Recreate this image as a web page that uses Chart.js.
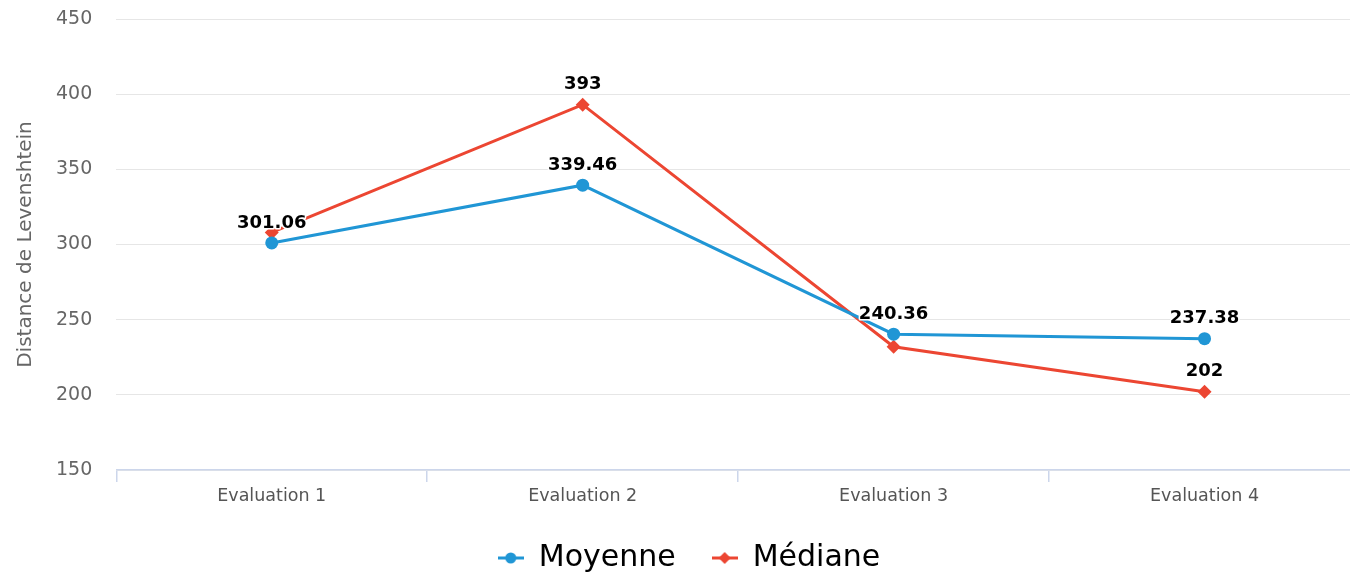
<!DOCTYPE html>
<html>
<head>
<meta charset="utf-8">
<script src="https://cdn.jsdelivr.net/npm/chart.js@4.4.1/dist/chart.umd.min.js"></script>
<style>
  html, body { margin: 0; padding: 0; background: #ffffff; overflow: hidden; }
  #wrap { width: 1367px; height: 573px; position: relative; }
</style>
</head>
<body>
<div id="wrap"><canvas id="c"></canvas></div>
<script>
// Categories and series
const categories = ['Evaluation 1', 'Evaluation 2', 'Evaluation 3', 'Evaluation 4'];
const moyenne = [301.06, 339.46, 240.36, 237.38];
const mediane = [308, 393, 232, 202];
// Which points carry a visible value label
const moyenneLabels = [true, true, true, true];
const medianeLabels = [false, true, false, true];
const yTicks = [150, 200, 250, 300, 350, 400, 450];

const BLUE = '#2096d5';
const RED = '#ec4632';
const FONT = "'DejaVu Sans', sans-serif";

// Legend icons: a short line segment with the series marker
function legendIcon(color, kind) {
  const cv = document.createElement('canvas');
  cv.width = 26; cv.height = 14;
  const g = cv.getContext('2d');
  g.strokeStyle = color; g.lineWidth = 3;
  g.beginPath(); g.moveTo(0, 7); g.lineTo(26, 7); g.stroke();
  g.fillStyle = color;
  g.beginPath();
  if (kind === 'circle') {
    g.arc(13, 7, 5.5, 0, Math.PI * 2);
  } else {
    g.moveTo(13, 1); g.lineTo(19, 7); g.lineTo(13, 13); g.lineTo(7, 7); g.closePath();
  }
  g.fill();
  return cv;
}

// Draws value labels above the points
const valueLabels = {
  id: 'valueLabels',
  afterDatasetsDraw(chart) {
    const ctx = chart.ctx;
    ctx.save();
    ctx.font = "bold 18px " + FONT;
    ctx.textAlign = 'center';
    ctx.textBaseline = 'middle';
    ctx.lineJoin = 'round';
    chart.data.datasets.forEach((ds, i) => {
      const meta = chart.getDatasetMeta(i);
      meta.data.forEach((pt, j) => {
        if (!ds.showLabel[j]) return;
        const txt = String(ds.data[j]);
        const y = pt.y - 20;
        ctx.strokeStyle = '#ffffff';
        ctx.lineWidth = 3;
        ctx.strokeText(txt, pt.x, y);
        ctx.fillStyle = '#000000';
        ctx.fillText(txt, pt.x, y);
      });
    });
    ctx.restore();
  }
};

new Chart(document.getElementById('c'), {
  type: 'line',
  data: {
    labels: categories,
    datasets: [
      {
        label: 'Moyenne',
        data: moyenne,
        showLabel: moyenneLabels,
        borderColor: BLUE,
        backgroundColor: BLUE,
        borderWidth: 3,
        pointStyle: 'circle',
        pointRadius: 6.5,
        pointBorderWidth: 0,
        tension: 0
      },
      {
        label: 'Médiane',
        data: mediane,
        showLabel: medianeLabels,
        borderColor: RED,
        backgroundColor: RED,
        borderWidth: 3,
        pointStyle: 'rectRot',
        pointRadius: 7,
        pointBorderWidth: 0,
        tension: 0
      }
    ]
  },
  options: {
    responsive: true,
    maintainAspectRatio: false,
    animation: false,
    layout: { padding: { top: 19, right: 3, left: 14, bottom: -10 } },
    plugins: {
      tooltip: { enabled: false },
      legend: {
        position: 'bottom',
        labels: {
          font: { family: FONT, size: 30 },
          color: '#000000',
          usePointStyle: true,
          pointStyleWidth: 26,
          padding: 36,
          generateLabels(chart) {
            return chart.data.datasets.map((ds, i) => ({
              text: ds.label,
              pointStyle: legendIcon(ds.borderColor, i === 0 ? 'circle' : 'diamond'),
              fillStyle: ds.borderColor,
              strokeStyle: ds.borderColor,
              lineWidth: 0,
              fontColor: '#000000',
              hidden: false,
              datasetIndex: i
            }));
          }
        }
      }
    },
    scales: {
      x: {
        offset: true,
        afterFit(scale) { scale.height -= 4; },
        grid: {
          offset: true,
          drawOnChartArea: false,
          drawTicks: true,
          tickLength: 12,
          color: '#ccd6eb',
          lineWidth: 1.5
        },
        border: { display: true, color: '#ccd6eb', width: 1.5 },
        ticks: {
          font: { family: FONT, size: 17.5 },
          color: '#555555',
          padding: 4
        }
      },
      y: {
        min: 150,
        max: 450,
        afterBuildTicks(scale) {
          scale.ticks = yTicks.map(v => ({ value: v }));
        },
        afterFit(scale) { scale.width += 4; },
        grid: {
          color: '#e6e6e6',
          lineWidth: 1,
          drawTicks: true,
          tickLength: 24,
          tickColor: 'rgba(0,0,0,0)'
        },
        border: { display: false },
        ticks: {
          font: { family: FONT, size: 19 },
          color: '#666666',
          padding: 0
        },
        title: {
          display: true,
          text: 'Distance de Levenshtein',
          font: { family: FONT, size: 20 },
          color: '#666666',
          padding: { top: 0, bottom: 14 }
        }
      }
    }
  },
  plugins: [valueLabels]
});
</script>
</body>
</html>
